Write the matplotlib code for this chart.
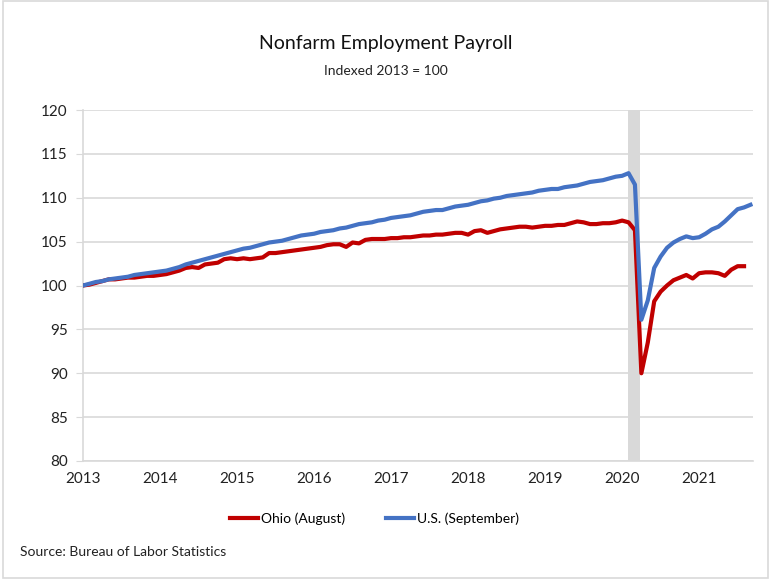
import numpy as np
import matplotlib
matplotlib.use("Agg")
import matplotlib.pyplot as plt
from matplotlib.patches import Rectangle

# Monthly index values, Jan 2013 = month 0
us_values = [
    100.0, 100.2, 100.4, 100.5, 100.7, 100.8, 100.9, 101.0, 101.2, 101.3, 101.4, 101.5,
    101.6, 101.7, 101.9, 102.1, 102.4, 102.6, 102.8, 103.0, 103.2, 103.4, 103.6, 103.8,
    104.0, 104.2, 104.3, 104.5, 104.7, 104.9, 105.0, 105.1, 105.3, 105.5, 105.7, 105.8,
    105.9, 106.1, 106.2, 106.3, 106.5, 106.6, 106.8, 107.0, 107.1, 107.2, 107.4, 107.5,
    107.7, 107.8, 107.9, 108.0, 108.2, 108.4, 108.5, 108.6, 108.6, 108.8, 109.0, 109.1,
    109.2, 109.4, 109.6, 109.7, 109.9, 110.0, 110.2, 110.3, 110.4, 110.5, 110.6, 110.8,
    110.9, 111.0, 111.0, 111.2, 111.3, 111.4, 111.6, 111.8, 111.9, 112.0, 112.2, 112.4,
    112.5, 112.8, 111.5, 96.1, 98.3, 102.0, 103.3, 104.3, 104.9, 105.3, 105.6, 105.4,
    105.5, 105.9, 106.4, 106.7, 107.3, 108.0, 108.7, 108.9, 109.2,
]
ohio_values = [
    100.0, 100.1, 100.3, 100.5, 100.7, 100.7, 100.8, 100.9, 100.9, 101.0, 101.1, 101.1,
    101.2, 101.3, 101.5, 101.7, 102.0, 102.1, 102.0, 102.4, 102.5, 102.6, 103.0, 103.1,
    103.0, 103.1, 103.0, 103.1, 103.2, 103.7, 103.7, 103.8, 103.9, 104.0, 104.1, 104.2,
    104.3, 104.4, 104.6, 104.7, 104.7, 104.4, 104.9, 104.8, 105.2, 105.3, 105.3, 105.3,
    105.4, 105.4, 105.5, 105.5, 105.6, 105.7, 105.7, 105.8, 105.8, 105.9, 106.0, 106.0,
    105.8, 106.2, 106.3, 106.0, 106.2, 106.4, 106.5, 106.6, 106.7, 106.7, 106.6, 106.7,
    106.8, 106.8, 106.9, 106.9, 107.1, 107.3, 107.2, 107.0, 107.0, 107.1, 107.1, 107.2,
    107.4, 107.2, 106.3, 90.0, 93.5, 98.2, 99.3, 100.0, 100.6, 100.9, 101.2, 100.8,
    101.4, 101.5, 101.5, 101.4, 101.1, 101.8, 102.2, 102.2,
]
year_labels = ["2013", "2014", "2015", "2016", "2017", "2018", "2019", "2020", "2021"]
recession = (85, 87)  # Feb 2020 - Apr 2020

plt.rcParams["font.family"] = ["Lato", "DejaVu Sans"]

fig = plt.figure(figsize=(7.71, 5.79), dpi=100)
ax = fig.add_axes([0.1077, 0.2038, 0.869, 0.6062])

ax.axvspan(recession[0] - 0.1, recession[1] - 0.2, color="#D9D9D9", lw=0, zorder=1)
ax.plot(np.arange(len(ohio_values)), ohio_values, color="#C00000", lw=3.0,
        label="Ohio (August)", zorder=3, solid_joinstyle="round")
ax.plot(np.arange(len(us_values)), us_values, color="#4472C4", lw=3.0,
        label="U.S. (September)", zorder=4, solid_joinstyle="round")

ax.set_xlim(0, 104.4)
ax.set_ylim(80, 120)
ax.set_yticks(np.arange(80, 121, 5))
ax.set_xticks(np.arange(0, 12 * len(year_labels), 12))
ax.set_xticklabels(year_labels)
ax.grid(axis="y", color="#D9D9D9", lw=1.2)
ax.set_axisbelow(True)
for s in ["top", "right"]:
    ax.spines[s].set_visible(False)
for s in ["left", "bottom"]:
    ax.spines[s].set_color("#D9D9D9")
    ax.spines[s].set_linewidth(1.2)
ax.tick_params(axis="y", length=5, color="#D9D9D9", labelsize=11, labelcolor="#222222", pad=6)
ax.tick_params(axis="x", length=0, labelsize=11, labelcolor="#222222", pad=8)

fig.text(0.5, 0.925, "Nonfarm Employment Payroll", ha="center", va="center", fontsize=14, color="#111111")
fig.text(0.5, 0.877, "Indexed 2013 = 100", ha="center", va="center", fontsize=10, color="#222222")

ax.legend(loc="center", bbox_to_anchor=(0.435, -0.165), ncol=2, frameon=False,
          fontsize=10, handlelength=2.0, handletextpad=0.2, columnspacing=3.0)
fig.text(0.026, 0.047, "Source: Bureau of Labor Statistics", ha="left", va="center",
         fontsize=10, color="#222222")

fig.patches.append(Rectangle((0.004, 0.002), 0.992, 0.996, transform=fig.transFigure,
                             fill=False, edgecolor="#D9D9D9", lw=1.2))

fig.savefig("out.png", dpi=100)
